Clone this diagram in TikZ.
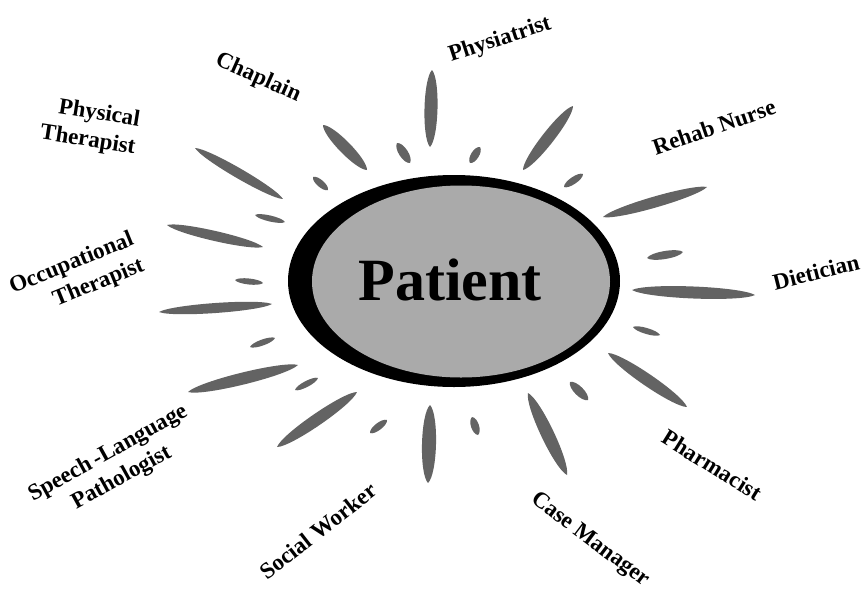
\documentclass[tikz,border=0pt]{standalone}
\usepackage{fontspec}
\setmainfont{Liberation Serif}
\usepackage{tikz}
\usetikzlibrary{positioning}
\definecolor{RayGray}{RGB}{99, 99, 99}
\definecolor{PatientGray}{RGB}{170, 170, 170}

% tapered ray from (x1,y1) to (x2,y2) with half width #5
\newcommand{\ray}[5]{%
  \pgfmathsetmacro{\rlen}{veclen(#3-#1,#4-#2)}%
  \pgfmathsetmacro{\rang}{atan2(#2-#4,#3-#1)}%
  \fill[RayGray, shift={({(#1+#3)/2},{(#2+#4)/2})}, rotate=\rang]
    ({-\rlen/2},0) .. controls ({-0.38*\rlen},{#5/0.75}) and ({0.38*\rlen},{#5/0.75}) .. ({\rlen/2},0)
    .. controls ({0.38*\rlen},{-#5/0.75}) and ({-0.38*\rlen},{-#5/0.75}) .. cycle;}

\begin{document}
\begin{tikzpicture}[x=1pt, y=-1pt,
    role/.style={font=\fontsize{23}{28}\selectfont\bfseries, align=center, inner sep=0pt},
    patientlabel/.style={font=\fontsize{60}{66}\selectfont\bfseries, inner sep=0pt}
  ]
    \useasboundingbox (0,0) rectangle (862,592);

    % centre
    \fill[black] (454,281) ellipse [x radius=166, y radius=106];
    \fill[PatientGray] (461,281.5) ellipse [x radius=149, y radius=96];
    \node[patientlabel, anchor=base] (patient) at (450,300) {Patient};

    % long rays
    \ray{432}{70}{430}{147}{6.5}
    \ray{573}{106}{523}{170}{6}
    \ray{707}{187}{603}{217}{5.5}
    \ray{632}{290}{755}{295}{6}
    \ray{608}{353}{687}{407}{6}
    \ray{528}{393}{567}{475}{6.5}
    \ray{430}{405}{428}{483}{7}
    \ray{357}{392}{277}{447}{6}
    \ray{298}{365}{188}{392}{6}
    \ray{272}{304}{159}{312}{5}
    \ray{167}{225}{263}{247}{5}
    \ray{195}{148}{283}{199}{5}
    \ray{323}{125}{367}{170}{6}

    % short rays
    \ray{397}{143}{410}{163}{4.5}
    \ray{480}{147}{470}{163}{4}
    \ray{583}{174}{564}{187}{3.5}
    \ray{683}{252}{647}{258}{4}
    \ray{633}{327}{660}{335}{3}
    \ray{570}{382}{588}{400}{4.5}
    \ray{472}{417}{478}{435}{4}
    \ray{387}{420}{370}{433}{3.5}
    \ray{318}{378}{295}{390}{3}
    \ray{275}{338}{250}{347}{3}
    \ray{263}{283}{235}{280}{3}
    \ray{285}{222}{255}{215}{3}
    \ray{313}{177}{328}{190}{3.5}

    % team members
    \node[role, rotate=18] (physiatrist) at (500,40) {Physiatrist};
    \node[role, rotate=19] (rehabnurse) at (714,127) {Rehab Nurse};
    \node[role, rotate=14] (dietician) at (816,272) {Dietician};
    \node[role, rotate=-32] (pharmacist) at (712,465) {Pharmacist};
    \node[role, rotate=-37] (casemanager) at (590,540) {Case Manager};
    \node[role, rotate=38] (socialworker) at (318,531) {Social Worker};
    \node[role, rotate=29] (speech) at (115,466) {Speech\,-Language\\Pathologist};
    \node[role, rotate=22, align=right] (occupational) at (77,277) {Occupational\\Therapist};
    \node[role, rotate=-9, align=right] (physical) at (90,127) {Physical\\Therapist};
    \node[role, rotate=-24] (chaplain) at (258,78) {Chaplain};
  \end{tikzpicture}
\end{document}
